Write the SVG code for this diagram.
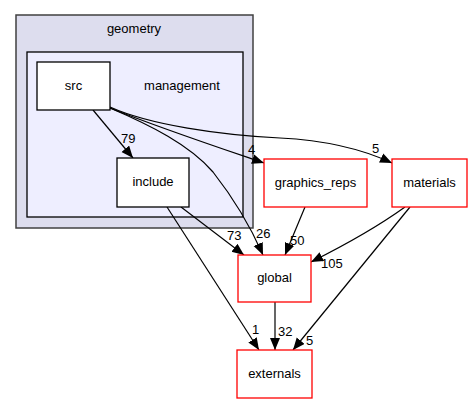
<svg xmlns="http://www.w3.org/2000/svg" width="472" height="404" viewBox="0 0 472 404">
<defs>
<style>
text{font-family:"Liberation Sans",Arial,sans-serif;font-size:13px;fill:#000;}
.c{text-anchor:middle;}
.node{fill:#fff;stroke:#000;stroke-width:1.3;}
.ext{fill:#fff;stroke:#ff0000;stroke-width:1.3;}
.e{fill:none;stroke:#000;stroke-width:1.2;marker-end:url(#ah);}
</style>
<marker id="ah" markerUnits="userSpaceOnUse" markerWidth="13" markerHeight="11" refX="12" refY="5" orient="auto">
<path d="M0,0 L12,5 L0,10 Z" fill="#000"/>
</marker>
</defs>
<g id="cluster_geometry">
<rect x="16" y="15" width="237" height="213" fill="#ddddee" stroke="#404040" stroke-width="1.5"/>
<text class="c" x="134" y="33">geometry</text>
</g>
<g id="cluster_management">
<rect x="27" y="52" width="216" height="165" fill="#eeeeff" stroke="#000" stroke-width="1.3"/>
<text class="c" x="182" y="90">management</text>
</g>
<g id="connectors">
<path class="e" d="M93,110 L133,158"/>
<text x="121" y="143">79</text>
<path class="e" d="M110,108 C160,128 220,148 264,163"/>
<text x="248" y="154">4</text>
<path class="e" d="M110,107 C150,125 220,135 280,138 C320,140 360,148 392,163"/>
<text x="372" y="153">5</text>
<path class="e" d="M110,108 C150,125 190,145 213,172 C235,200 252,230 263,255"/>
<text x="256" y="238">26</text>
<path class="e" d="M181,207 L244,255"/>
<text x="227" y="240">73</text>
<path class="e" d="M167,207 L259,350"/>
<text x="252" y="334">1</text>
<path class="e" d="M305,207 L285,255"/>
<text x="290" y="245">50</text>
<path class="e" d="M405,207 C380,225 345,245 311,262"/>
<text x="321" y="268">105</text>
<path class="e" d="M410,207 L293,350"/>
<text x="306" y="345">5</text>
<path class="e" d="M275,302 L275,350"/>
<text x="278" y="336">32</text>
</g>
<g id="node_src">
<rect class="node" x="37" y="62" width="73" height="48"/>
<text class="c" x="73.5" y="90">src</text>
</g>
<g id="node_include">
<rect class="node" x="117" y="158" width="72" height="49"/>
<text class="c" x="153" y="186">include</text>
</g>
<g id="node_graphics_reps">
<rect class="ext" x="264" y="159" width="103" height="48"/>
<text class="c" x="315.5" y="187">graphics_reps</text>
</g>
<g id="node_materials">
<rect class="ext" x="392" y="159" width="75" height="48"/>
<text class="c" x="429.5" y="187">materials</text>
</g>
<g id="node_global">
<rect class="ext" x="238" y="255" width="73" height="47"/>
<text class="c" x="274.5" y="282">global</text>
</g>
<g id="node_externals">
<rect class="ext" x="237" y="350" width="75" height="48"/>
<text class="c" x="274.5" y="378">externals</text>
</g>
</svg>
